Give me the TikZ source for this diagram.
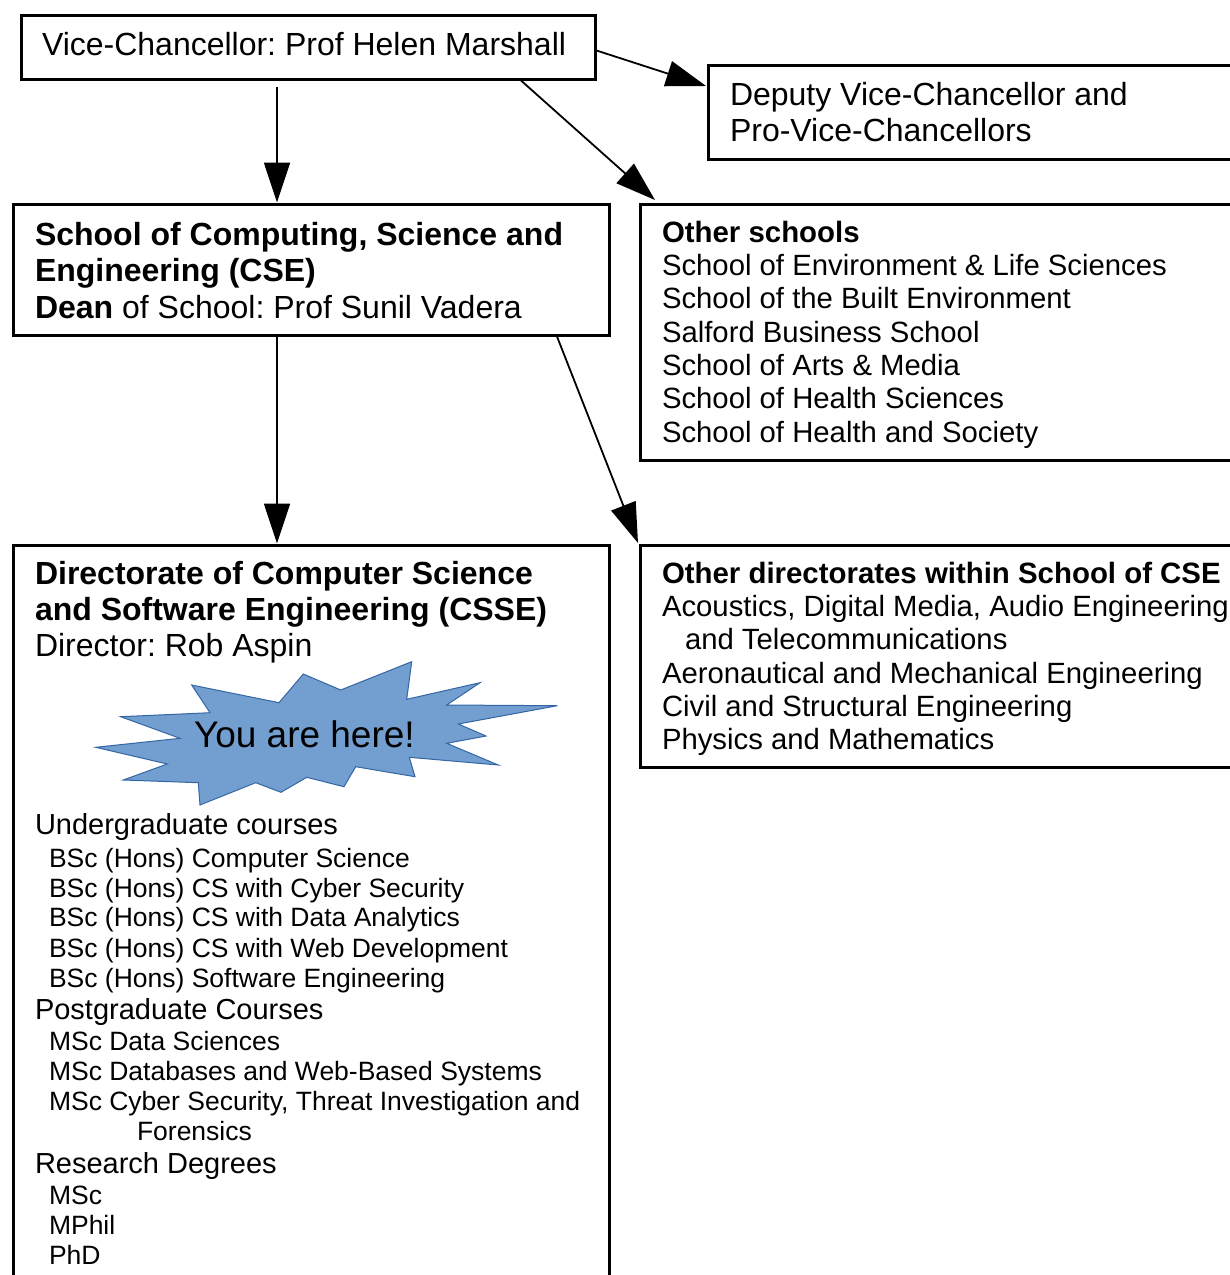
\documentclass[tikz,border=0pt]{standalone}
\usepackage{fontspec}
\setmainfont{Liberation Sans}
\usetikzlibrary{arrows.meta}
\definecolor{starfill}{HTML}{729FCF}
\definecolor{starline}{HTML}{3465A4}
\frenchspacing
\begin{document}
\begin{tikzpicture}[x=1pt,y=-1pt,
  box/.style={draw, line width=3pt, anchor=north west, inner sep=0pt, outer sep=0pt},
  txt/.style={anchor=base west, inner sep=0pt, outer sep=0pt, font=\fontsize{32}{36}\selectfont\frenchspacing},
  btxt/.style={txt, font=\fontsize{32}{36}\selectfont\bfseries},
  htxt/.style={txt, font=\fontsize{29}{33}\selectfont},
  rtxt/.style={txt, font=\fontsize{29.3}{33}\selectfont},
  rbtxt/.style={txt, font=\fontsize{29.4}{33}\selectfont\bfseries},
  stxt/.style={txt, font=\fontsize{26.5}{30}\selectfont},
  arr/.style={line width=1.8pt, -{Triangle[length=40pt,width=26pt]}}]
\useasboundingbox (0,0) rectangle (1230,1275);
\clip (0,0) rectangle (1230,1275);

% boxes
\node[box, minimum width=574pt, minimum height=64pt] (vc) at (21,15) {};
\node[box, minimum width=540pt, minimum height=94pt] (dep) at (708,65) {};
\node[box, minimum width=596pt, minimum height=131pt] (cse) at (13,204) {};
\node[box, minimum width=610pt, minimum height=256pt] (os) at (640,204) {};
\node[box, minimum width=596pt, minimum height=760pt] (csse) at (13,545) {};
\node[box, minimum width=610pt, minimum height=222pt] (od) at (640,545) {};

% texts
\node[txt] (vct) at (42,55) {Vice-Chancellor: Prof Helen Marshall};
\node[txt] (dep1) at (730,105.5) {Deputy Vice-Chancellor and};
\node[txt] (dep2) at (730,141.5) {Pro-Vice-Chancellors};

\node[btxt] (cse1) at (35,245) {School of Computing, Science and};
\node[btxt] (cse2) at (35,281.5) {Engineering (CSE)};
\node[txt] (cse3) at (35,318) {\textbf{Dean} of School: Prof Sunil Vadera};

\node[rbtxt] (os0) at (662,242) {Other schools};
\node[rtxt] (os1) at (662,275.3) {School of Environment \& Life Sciences};
\node[rtxt] (os2) at (662,308.6) {School of the Built Environment};
\node[rtxt] (os3) at (662,342) {Salford Business School};
\node[rtxt] (os4) at (662,375.3) {School of Arts \& Media};
\node[rtxt] (os5) at (662,408.6) {School of Health Sciences};
\node[rtxt] (os6) at (662,442) {School of Health and Society};

\node[btxt] (cs1) at (35,584.5) {Directorate of Computer Science};
\node[btxt] (cs2) at (35,620.5) {and Software Engineering (CSSE)};
\node[txt] (cs3) at (35,656.5) {Director: Rob Aspin};

% star
\filldraw[fill=starfill, draw=starline, line width=1pt]
  (191.7,685) -- (279,702.7) -- (303.3,674) -- (340.7,690) -- (411.7,661.7)
  -- (406.7,699.3) -- (480,682.7) -- (446.7,705) -- (557.3,705.7) -- (458.3,724)
  -- (486,736) -- (446.7,743.3) -- (498.3,765) -- (409.3,757.3) -- (415,776.7)
  -- (355.7,766.7) -- (344,786.7) -- (306.7,777.3) -- (281,792.3) -- (255.7,782.7)
  -- (200,805) -- (198.3,782.7) -- (123.3,780) -- (167.3,764) -- (95.7,747.3)
  -- (180,738.3) -- (120.7,716.7) -- (210,712.7) -- cycle;
\node[txt, font=\fontsize{37}{41}\selectfont] (here) at (194,747.5) {You are here!};

\node[htxt] (ug) at (35,834.5) {Undergraduate courses};
\node[stxt] (ug1) at (49,867) {BSc (Hons) Computer Science};
\node[stxt] (ug2) at (49,897) {BSc (Hons) CS with Cyber Security};
\node[stxt] (ug3) at (49,926.5) {BSc (Hons) CS with Data Analytics};
\node[stxt] (ug4) at (49,957) {BSc (Hons) CS with Web Development};
\node[stxt] (ug5) at (49,987) {BSc (Hons) Software Engineering};
\node[htxt] (pg) at (35,1019.5) {Postgraduate Courses};
\node[stxt] (pg1) at (49,1050.5) {MSc Data Sciences};
\node[stxt] (pg2) at (49,1080.5) {MSc Databases and Web-Based Systems};
\node[stxt] (pg3) at (49,1110.5) {MSc Cyber Security, Threat Investigation and};
\node[stxt] (pg4) at (137,1140.5) {Forensics};
\node[htxt] (rd) at (35,1173.5) {Research Degrees};
\node[stxt] (rd1) at (49,1204.5) {MSc};
\node[stxt] (rd2) at (49,1234.5) {MPhil};
\node[stxt] (rd3) at (49,1264.5) {PhD};

\node[rbtxt] (od0) at (662,583.5) {Other directorates within School of CSE};
\node[rtxt] (od1) at (662,616.5) {Acoustics, Digital Media, Audio Engineering};
\node[rtxt] (od2) at (685,649.5) {and Telecommunications};
\node[rtxt] (od3) at (662,683) {Aeronautical and Mechanical Engineering};
\node[rtxt] (od4) at (662,716) {Civil and Structural Engineering};
\node[rtxt] (od5) at (662,749.5) {Physics and Mathematics};

% connectors
\draw[arr] ([xshift=256pt,yshift=-8pt]vc.south west) -- ([xshift=264pt,yshift=1.5pt]cse.north west);
\draw[arr] ([yshift=29pt]vc.south east) -- ([xshift=-2pt,yshift=-21pt]dep.north west);
\draw[arr] ([xshift=500pt,yshift=-1.5pt]vc.south west) -- ([xshift=15pt,yshift=4pt]os.north west);
\draw[arr] ([xshift=264pt,yshift=-1.5pt]cse.south west) -- ([xshift=264pt,yshift=1.5pt]csse.north west);
\draw[arr] ([xshift=544pt,yshift=-1.5pt]cse.south west) -- ([xshift=-2pt,yshift=2pt]od.north west);
\end{tikzpicture}
\end{document}
